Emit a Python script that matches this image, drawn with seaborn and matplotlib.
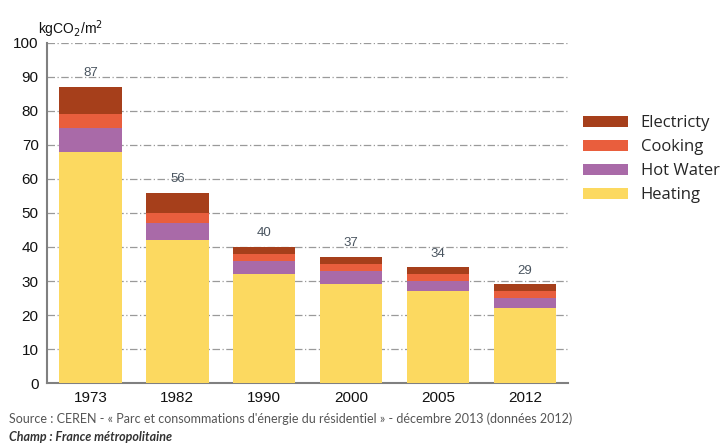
import matplotlib
matplotlib.use("Agg")
import matplotlib.pyplot as plt
import seaborn as sns
import pandas as pd
import numpy as np
from matplotlib.patches import Patch

years = ["1973", "1982", "1990", "2000", "2005", "2012"]
heating = [68, 42, 32, 29, 27, 22]
hot_water = [7, 5, 4, 4, 3, 3]
cooking = [4, 3, 2, 2, 2, 2]
electricity = [8, 6, 2, 2, 2, 2]
series_names = ["Electricty", "Cooking", "Hot Water", "Heating"]
colors = {"Electricty": "#A63F1B", "Cooking": "#E95E3D", "Hot Water": "#A96AA8", "Heating": "#FCD960"}

sns.set_theme(style="white")
plt.rcParams['font.family'] = ['Liberation Sans', 'DejaVu Sans']

df = pd.DataFrame({"year": years, "Heating": heating, "Hot Water": hot_water,
                   "Cooking": cooking, "Electricty": electricity})
df["c_heat"] = df["Heating"]
df["c_hw"] = df["c_heat"] + df["Hot Water"]
df["c_cook"] = df["c_hw"] + df["Cooking"]
df["c_total"] = df["c_cook"] + df["Electricty"]

fig = plt.figure(figsize=(7.23, 4.46), dpi=100)
ax = fig.add_axes([0.065, 0.141, 0.721, 0.763])

for col, name in [("c_total", "Electricty"), ("c_cook", "Cooking"), ("c_hw", "Hot Water"), ("c_heat", "Heating")]:
    sns.barplot(data=df, x="year", y=col, order=years, color=colors[name],
                width=0.72, saturation=1, ax=ax, zorder=3, linewidth=0)

ax.set_ylim(0, 100)
ax.set_xlim(-0.5, 5.5)
ax.set_yticks(range(0, 101, 10))
ax.set_xlabel("")
ax.set_ylabel("")
ax.yaxis.grid(True, linestyle=(0, (6, 2, 1, 2)), color="#9a9a9a", linewidth=0.9, zorder=0)
ax.set_axisbelow(True)
for s in ["top", "right"]:
    ax.spines[s].set_visible(False)
for s in ["left", "bottom"]:
    ax.spines[s].set_color("#808080")
    ax.spines[s].set_linewidth(1.5)
ax.tick_params(axis="y", length=0, labelsize=11, pad=6)
ax.tick_params(axis="x", length=0, labelsize=11, pad=6)
for lab in ax.get_xticklabels() + ax.get_yticklabels():
    lab.set_color("#111111")
ax.set_xticks(np.arange(-0.5, 6.0, 1.0), minor=True)
ax.tick_params(axis="x", which="minor", length=6, width=1.5, color="#808080", direction="out")

for i, t in enumerate(df["c_total"]):
    ax.text(i, t + 2.3, str(int(t)), ha="center", va="bottom", fontsize=9.5, color="#4a5560")

fig.text(0.053, 0.935, "kgCO$_2$/m$^2$", fontsize=10, color="#111111", ha="left", va="center")

handles = [Patch(facecolor=colors[n], edgecolor="none", label=n) for n in series_names]
fig.legend(handles=handles, loc="upper left", bbox_to_anchor=(0.786, 0.775), frameon=False,
           handlelength=2.7, handleheight=0.7, labelspacing=0.48, handletextpad=0.75,
           prop={"family": "Open Sans", "size": 12})

fig.text(0.012, 0.062, "Source : CEREN - « Parc et consommations d'énergie du résidentiel » - décembre 2013 (données 2012)",
         fontsize=9, color="#555555", ha="left", va="center", family="Lato")
fig.text(0.012, 0.020, "Champ : France métropolitaine", fontsize=9, color="#333333",
         ha="left", va="center", family="Lato", style="italic", weight="bold")

fig.savefig("out.png", dpi=100)
